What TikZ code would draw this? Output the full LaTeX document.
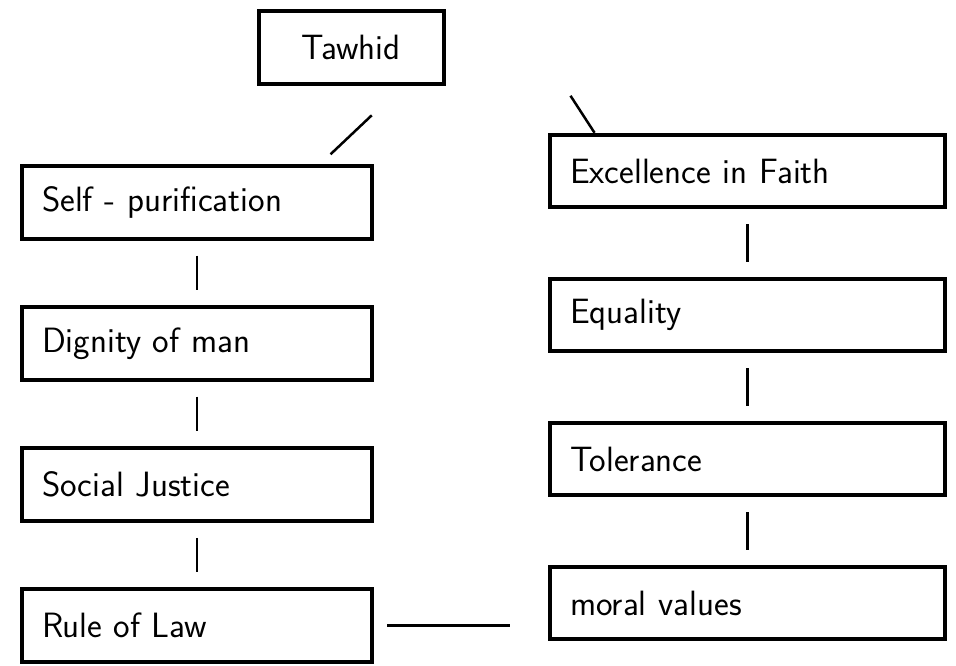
\documentclass[tikz,border=0pt]{standalone}
\usepackage{tikz}
\usetikzlibrary{positioning}

\begin{document}
\begin{tikzpicture}
    [
        node distance=2.82cm, on grid,
        left_box/.style={rectangle, draw=black, line width=0.8mm, minimum height=14.5mm, text width=62mm, inner xsep=4mm, align=left, font=\sffamily\fontsize{20}{24}\selectfont},
        right_box/.style={left_box, text width=71mm},
        top_box/.style={left_box, text width=29mm, align=center},
        link/.style={line width=0.5mm, color=black, shorten <=3mm, shorten >=3mm},
    ]
        \useasboundingbox (0,0) rectangle (19.12,-13.32);
        \node[top_box] (tawhid) at (7.02,-0.95) {Tawhid};
        \node[left_box] (purif) at (3.94,-4.05) {Self - purification};
        \node[left_box] (dignity) [below = of purif] {Dignity of man};
        \node[left_box] (justice) [below = of dignity] {Social Justice};
        \node[left_box] (law) [below = of justice] {Rule of Law};
        \node[right_box] (faith) at (14.95,-3.42) {Excellence in Faith};
        \node[right_box] (equality) [below = 2.88cm of faith] {Equality};
        \node[right_box] (tolerance) [below = 2.88cm of equality] {Tolerance};
        \node[right_box] (moral) [below = 2.88cm of tolerance] {moral values};
        \draw[link, shorten <=8.6mm, shorten >=2.9mm] ([xshift=10.4mm]tawhid.south) to ([xshift=24.6mm]purif.north) ;
        \draw[link, shorten <=0mm, shorten >=0mm] ([shift={(2.5,-0.2)}]tawhid.south east) to ([xshift=-30.6mm]faith.north) ;
        \draw[link] (purif) to (dignity) ;
        \draw[link] (dignity) to (justice) ;
        \draw[link] (justice) to (law) ;
        \draw[link] (faith) to (equality) ;
        \draw[link] (equality) to (tolerance) ;
        \draw[link] (tolerance) to (moral) ;
        \draw[link, shorten <=2.6mm, shorten >=7.6mm] (law.east) to (law.east -| moral.west) ;
    \end{tikzpicture}
\end{document}
